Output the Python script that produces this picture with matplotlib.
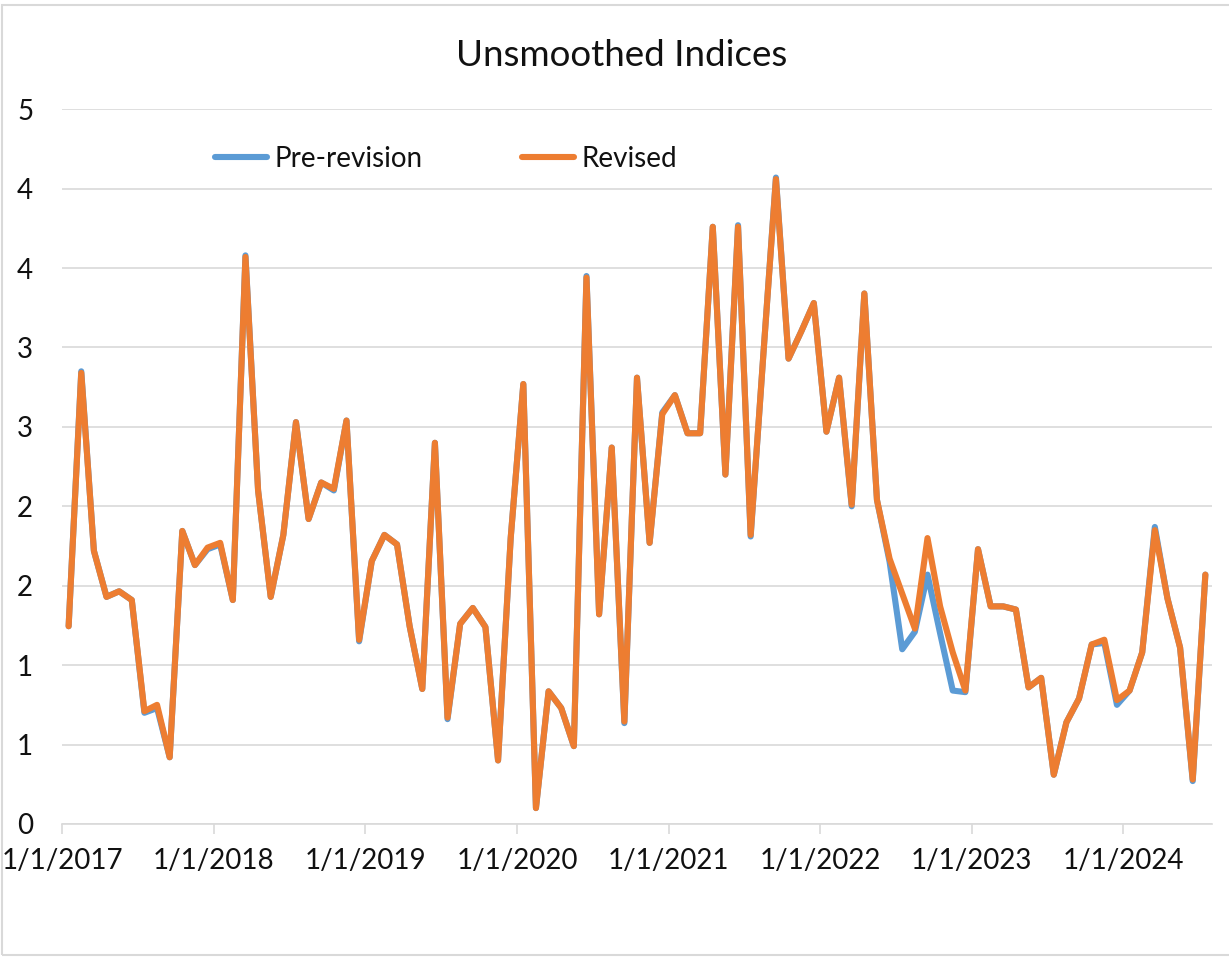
import math
import numpy as np
import matplotlib
matplotlib.use('Agg')
import matplotlib.pyplot as plt
from matplotlib.patches import Rectangle
from matplotlib.ticker import FuncFormatter

# monthly values, Jan 2017 .. Jul 2024
revised = [1.245, 2.84, 1.72, 1.43, 1.465, 1.41, 0.71, 0.75, 0.42, 1.845, 1.63, 1.74,
           1.77, 1.41, 3.57, 2.10, 1.43, 1.82, 2.53, 1.92, 2.15, 2.11, 2.54, 1.16,
           1.655, 1.82, 1.76, 1.245, 0.85, 2.40, 0.67, 1.26, 1.36, 1.24, 0.40, 1.80,
           2.77, 0.10, 0.835, 0.73, 0.49, 3.44, 1.32, 2.37, 0.645, 2.81, 1.77, 2.58,
           2.70, 2.46, 2.46, 3.76, 2.20, 3.76, 1.82, 2.95, 4.06, 2.93, 3.10, 3.28,
           2.47, 2.81, 2.01, 3.34, 2.04, 1.67, 1.45, 1.23, 1.80, 1.37, 1.08, 0.84,
           1.73, 1.37, 1.37, 1.35, 0.86, 0.92, 0.31, 0.64, 0.79, 1.13, 1.16, 0.78,
           0.84, 1.08, 1.85, 1.42, 1.11, 0.28, 1.57]

pre_revision = [1.245, 2.85, 1.72, 1.43, 1.465, 1.41, 0.70, 0.73, 0.42, 1.845, 1.63, 1.73,
                1.76, 1.41, 3.58, 2.10, 1.43, 1.82, 2.53, 1.92, 2.15, 2.10, 2.54, 1.15,
                1.655, 1.82, 1.76, 1.245, 0.85, 2.40, 0.66, 1.26, 1.36, 1.24, 0.40, 1.80,
                2.77, 0.10, 0.835, 0.73, 0.49, 3.45, 1.32, 2.37, 0.635, 2.81, 1.77, 2.59,
                2.70, 2.46, 2.46, 3.76, 2.20, 3.77, 1.81, 2.95, 4.07, 2.93, 3.10, 3.28,
                2.47, 2.81, 2.00, 3.34, 2.04, 1.65, 1.10, 1.21, 1.57, 1.20, 0.84, 0.83,
                1.73, 1.37, 1.37, 1.35, 0.86, 0.92, 0.31, 0.64, 0.79, 1.13, 1.14, 0.75,
                0.84, 1.08, 1.87, 1.42, 1.11, 0.27, 1.57]

year_labels = ['1/1/2017', '1/1/2018', '1/1/2019', '1/1/2020',
               '1/1/2021', '1/1/2022', '1/1/2023', '1/1/2024']

plt.rcParams['font.family'] = ['Lato', 'DejaVu Sans']
txt = '#111111'
grid = '#D9D9D9'

fig = plt.figure(figsize=(12.29, 9.61), dpi=100)
fig.patches.append(Rectangle((0.002, 0.006), 1.2, 0.989, transform=fig.transFigure,
                             fill=False, edgecolor=grid, lw=1.5))
ax = fig.add_axes([0.0507, 0.1426, 0.9352, 0.7437])

# Excel date axis, points sit between tick marks
x = np.arange(len(revised)) + 0.5
ax.plot(x, pre_revision, color='#5B9BD5', lw=4.4, solid_capstyle='round',
        solid_joinstyle='round', label='Pre-revision')
ax.plot(x, revised, color='#ED7D31', lw=4.4, solid_capstyle='round',
        solid_joinstyle='round', label='Revised')

ax.set_xlim(0, len(revised))
ax.set_ylim(0, 4.5)
ax.set_yticks(np.arange(0, 4.51, 0.5))
ax.yaxis.set_major_formatter(FuncFormatter(lambda v, p: str(math.floor(v + 0.5))))
ax.set_xticks(np.arange(0, len(revised), 12))
ax.set_xticklabels(year_labels)

ax.grid(axis='y', color=grid, lw=1.2)
ax.set_axisbelow(True)
for s in ['top', 'right', 'left']:
    ax.spines[s].set_visible(False)
ax.spines['bottom'].set_color(grid)
ax.spines['bottom'].set_linewidth(1.2)
ax.tick_params(axis='x', length=7, width=1.2, color=grid, labelsize=20,
               labelcolor=txt, pad=10)
ax.tick_params(axis='y', length=0, labelsize=20, labelcolor=txt, pad=21)

fig.text(0.5057, 1 - 55 / 961, 'Unsmoothed Indices', ha='center', va='center',
         fontsize=26.5, color=txt)

ax.legend(loc='center', bbox_to_anchor=(0.334, 0.931), ncol=2, frameon=False,
          fontsize=20, handlelength=1.87, handletextpad=0.25, columnspacing=3.6,
          labelcolor=txt)

fig.savefig('out.png', dpi=100)
